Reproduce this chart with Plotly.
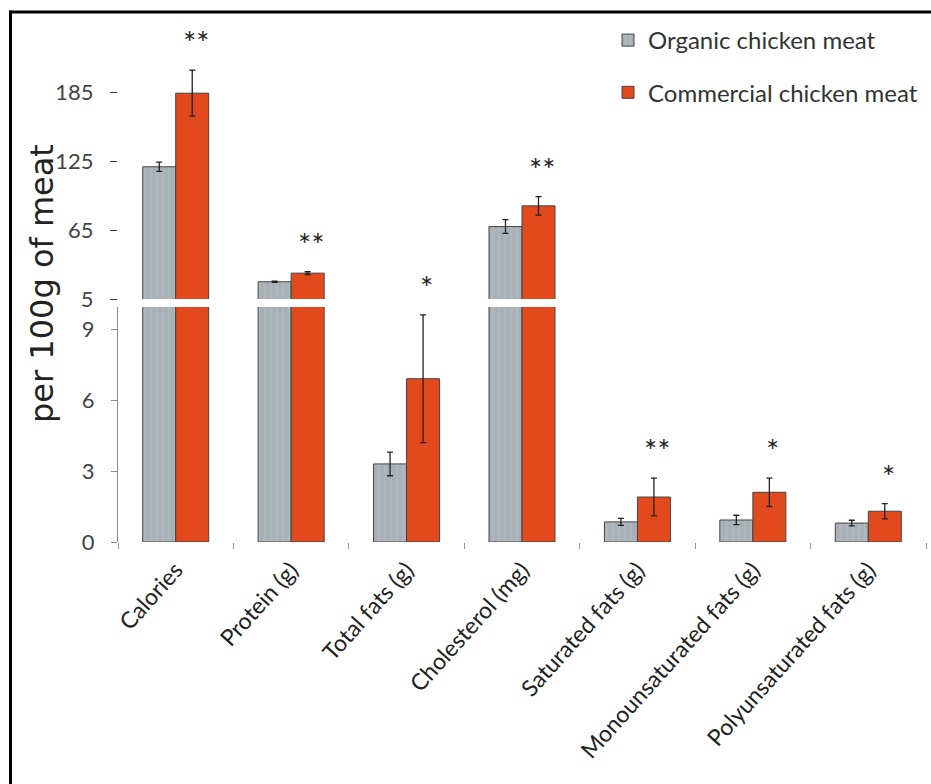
import plotly.graph_objects as go

# ---------------- data ----------------
categories = ["Calories", "Protein (g)", "Total fats (g)", "Cholesterol (mg)",
              "Saturated fats (g)", "Monounsaturated fats (g)", "Polyunsaturated fats (g)"]
organic = [120, 20, 3.3, 68, 0.85, 0.93, 0.80]
organic_err = [4, 0.5, 0.5, 6, 0.15, 0.2, 0.12]
commercial = [184, 27.5, 6.9, 86, 1.9, 2.1, 1.3]
commercial_err = [20, 1.2, 2.7, 8, 0.8, 0.6, 0.32]
significance = ["**", "**", "*", "**", "**", "*", "*"]
series_names = ["Organic chicken meat", "Commercial chicken meat"]
low_ticks = [0, 3, 6, 9]
high_ticks = [5, 65, 125, 185]
y_title = "per 100g of meat"

# ---------------- layout constants ----------------
W, H = 931, 784
def px_x(p):
    return p / W
def px_y(p):
    return 1 - p / H

LOW_MAX = 9.93            # top of the lower (0-9) panel
HIGH_MIN, HIGH_MAX = 5, 254.6

ORG_COLOR = "#acabbb"
COM_COLOR = "#e2491d"
OUTLINE = "#444444"
font_main = "Lato"

def top_filter(vals, errs):
    ys, es = [], []
    for v, e in zip(vals, errs):
        if v > LOW_MAX:
            ys.append(v); es.append(e)
        else:
            ys.append(None); es.append(None)
    return ys, es

fig = go.Figure()

org_pattern = dict(shape="|", fgcolor="#a6ccb4", bgcolor=ORG_COLOR, size=6, solidity=0.5)
err_style = dict(type="data", color="#222222", thickness=1.3, width=3, visible=True)

# lower panel (also provides the legend)
fig.add_trace(go.Bar(x=categories, y=organic, name=series_names[0],
                     marker=dict(color=ORG_COLOR, pattern=org_pattern,
                                 line=dict(color=OUTLINE, width=1)),
                     error_y=dict(array=organic_err, **err_style),
                     xaxis="x", yaxis="y", legendgroup="org", offsetgroup="org"))
fig.add_trace(go.Bar(x=categories, y=commercial, name=series_names[1],
                     marker=dict(color=COM_COLOR, line=dict(color=OUTLINE, width=1)),
                     error_y=dict(array=commercial_err, **err_style),
                     xaxis="x", yaxis="y", legendgroup="com", offsetgroup="com"))

# upper panel
oy, oe = top_filter(organic, organic_err)
cy, ce = top_filter(commercial, commercial_err)
fig.add_trace(go.Bar(x=categories, y=oy, name=series_names[0], showlegend=False,
                     marker=dict(color=ORG_COLOR, pattern=org_pattern,
                                 line=dict(color=OUTLINE, width=1)),
                     error_y=dict(array=oe, **err_style),
                     xaxis="x2", yaxis="y2", legendgroup="org", offsetgroup="org"))
fig.add_trace(go.Bar(x=categories, y=cy, name=series_names[1], showlegend=False,
                     marker=dict(color=COM_COLOR, line=dict(color=OUTLINE, width=1)),
                     error_y=dict(array=ce, **err_style),
                     xaxis="x2", yaxis="y2", legendgroup="com", offsetgroup="com"))

# significance stars above commercial bars
annotations = []
for cat, v, e, s in zip(categories, commercial, commercial_err, significance):
    yref = "y2" if v > LOW_MAX else "y"
    annotations.append(dict(x=cat, y=v + e, xref="x2" if yref == "y2" else "x", yref=yref,
                            text=s, showarrow=False, xshift=20, yshift=7,
                            yanchor="bottom", font=dict(family=font_main, size=31, color="#222")))
annotations.append(dict(x=px_x(42), y=px_y(284), xref="paper", yref="paper",
                        xanchor="center", yanchor="middle",
                        text=y_title, textangle=-90, showarrow=False,
                        font=dict(family="DejaVu Sans", size=32, color="#222")))

shapes = [
    dict(type="line", xref="paper", yref="paper", x0=px_x(10.5), x1=px_x(10.5),
         y0=-0.01, y1=px_y(10.5), line=dict(color="black", width=3)),
    dict(type="line", xref="paper", yref="paper", x0=px_x(9), x1=1.01,
         y0=px_y(12), y1=px_y(12), line=dict(color="black", width=3)),
]

tickfont = dict(family=font_main, size=22, color="#444")

fig.update_layout(
    width=W, height=H,
    margin=dict(l=0, r=0, t=0, b=0, autoexpand=False),
    paper_bgcolor="white", plot_bgcolor="white",
    barmode="group", bargap=0.428, bargroupgap=0,
    xaxis=dict(domain=[px_x(118), px_x(926)], anchor="y", type="category",
               tickson="boundaries", ticks="outside", ticklen=6, tickcolor="#999",
               showline=False, showgrid=False, tickangle=-48,
               tickfont=dict(family=font_main, size=23, color="#222"),
               ticklabelstandoff=9, automargin=False),
    xaxis2=dict(domain=[px_x(118), px_x(926)], anchor="y2", matches="x",
                type="category", visible=False),
    yaxis=dict(domain=[px_y(542), px_y(307)], range=[0, LOW_MAX],
               tickvals=low_ticks, ticks="outside", ticklen=6, tickcolor="#888",
               showline=True, linecolor="#888", linewidth=1,
               showgrid=False, zeroline=False, tickfont=tickfont,
               ticklabelstandoff=12, automargin=False),
    yaxis2=dict(domain=[px_y(299), px_y(12)], range=[HIGH_MIN, HIGH_MAX],
                tickvals=high_ticks, ticks="outside", ticklen=7, tickcolor="#333",
                showline=False, showgrid=False, zeroline=False, tickfont=tickfont,
                ticklabelstandoff=12, automargin=False),
    legend=dict(x=px_x(608), y=px_y(18), xanchor="left", yanchor="top",
                font=dict(family=font_main, size=24, color="#333"),
                tracegroupgap=18, bgcolor="rgba(0,0,0,0)"),
    annotations=annotations,
    shapes=shapes,
    showlegend=True,
)

fig.write_html("out.html")
